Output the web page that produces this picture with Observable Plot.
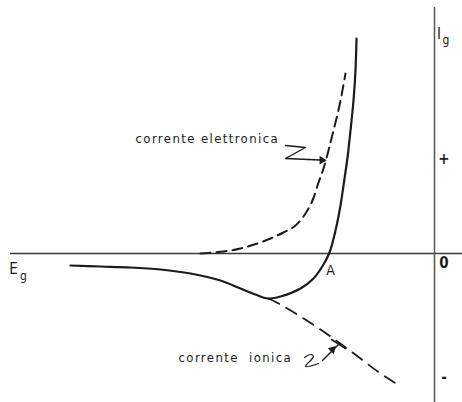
<!DOCTYPE html>
<html>
<head>
<meta charset="utf-8">
<script src="https://cdn.jsdelivr.net/npm/d3@7"></script>
<script src="https://cdn.jsdelivr.net/npm/@observablehq/plot@0.6"></script>
<style>
  html, body { margin: 0; padding: 0; background: #fff; }
  #chart svg text { white-space: pre; }
  #chart svg g[aria-description="curve labels"] text { letter-spacing: 1.4px; }
</style>
</head>
<body>
<div id="chart"></div>
<script>
// Grid current Ig versus grid voltage Eg (arbitrary units, origin at the axes crossing)

// Total grid current (solid)
const totalEg = [-36.4, -33.4, -30.4, -27.4, -24.4, -21.4, -19.4, -17.9, -16.7, -15.4, -13.4, -12.1, -11.1, -10.5, -9.9, -9.4, -9.1, -8.7, -8.4, -8.1, -7.9, -7.8];
const totalIg = [-1.2, -1.3, -1.4, -1.6, -2.0, -2.7, -3.5, -4.1, -4.5, -4.3, -3.5, -2.5, -1.1, 0.1, 2.3, 4.8, 6.8, 9.6, 12.3, 15.3, 18.3, 21.5];

// Electron current (dashed, upper branch)
const electronEg = [-23.4, -21.1, -19.4, -17.7, -16.4, -15.1, -13.9, -12.9, -12.2, -11.6, -11.1, -10.6, -10.1, -9.5, -8.9];
const electronIg = [0, 0.2, 0.5, 1.0, 1.5, 2.1, 2.8, 4.0, 5.3, 7.1, 8.5, 10.3, 12.3, 14.8, 18.0];

// Ion current (dashed, lower branch)
const ionEg = [-16.6, -15.4, -13.4, -11.4, -9.7, -7.4, -5.4, -3.7];
const ionIg = [-4.5, -5.1, -6.3, -7.6, -8.8, -10.5, -12.0, -13.1];

// Labels
const labelElectron = "corrente elettronica";
const labelIon = "corrente  ionica";
const labelA = "A";
const signLabels = ["+", "0", "-"];
const signIg = [9.4, -1.0, -12.4];

const toPts = (xs, ys) => xs.map((x, i) => ({x, y: ys[i]}));
const total = toPts(totalEg, totalIg);
const electron = toPts(electronEg, electronIg);
const ion = toPts(ionEg, ionIg);

// Pointer squiggles from the labels to the curves
const electronSquiggle = toPts([-14.9, -12.9, -14.9, -12.6], [10.8, 10.6, 9.5, 9.4]);
const electronStem = toPts([-12.6, -11.5], [9.4, 9.35]);
const ionSquiggle = toPts([-13.0, -12.4, -12.1, -12.9, -11.6], [-10.4, -10.1, -10.3, -11.3, -11.0]);
const ionStem = toPts([-11.2, -9.6], [-10.7, -9.1]);
const ionBar = toPts([-10.3, -8.9], [-8.6, -9.5]);
const heads = [
  {x: -11.25, y: 9.33, rotate: 90},
  {x: -10.2, y: -9.6, rotate: 45}
];

const ink = "#1b1b1b";
const font = "'DejaVu Sans Condensed', 'DejaVu Sans', sans-serif";

const chart = Plot.plot({
  width: 462,
  height: 402,
  margin: 0,
  x: {domain: [-43.4, 2.8], axis: null},
  y: {domain: [-14.9, 25.3], axis: null},
  style: {fontFamily: font, background: "#fff"},
  marks: [
    // axes
    Plot.ruleY([0], {x1: -42.4, x2: 2.8, stroke: "#3a3a3a", strokeWidth: 1.5}),
    Plot.ruleX([0], {y1: -14.9, y2: 24.6, stroke: "#555", strokeWidth: 1.5}),

    // curves
    Plot.line(total, {x: "x", y: "y", curve: "catmull-rom", stroke: ink, strokeWidth: 2.2}),
    Plot.line(electron, {x: "x", y: "y", curve: "catmull-rom", stroke: ink, strokeWidth: 2, strokeDasharray: "10,6"}),
    Plot.line(ion, {x: "x", y: "y", curve: "monotone-x", stroke: ink, strokeWidth: 1.8, strokeDasharray: "12,8"}),

    // pointers
    Plot.line(electronSquiggle, {x: "x", y: "y", stroke: ink, strokeWidth: 1.3}),
    Plot.line(electronStem, {x: "x", y: "y", stroke: ink, strokeWidth: 1.6}),
    Plot.line(ionSquiggle, {x: "x", y: "y", curve: "catmull-rom", stroke: ink, strokeWidth: 1.2}),
    Plot.line(ionStem, {x: "x", y: "y", stroke: ink, strokeWidth: 1.4}),
    Plot.line(ionBar, {x: "x", y: "y", stroke: ink, strokeWidth: 1.6}),
    Plot.dot(heads, {x: "x", y: "y", rotate: "rotate", symbol: "triangle2", r: 4, fill: ink, stroke: "none"}),

    // text
    Plot.text([labelElectron, labelIon], {
      x: [-29.9, -25.6], y: [11.5, -10.4], text: d => d, textAnchor: "start",
      fontSize: 13, fill: ink, ariaDescription: "curve labels"
    }),
    Plot.text([labelA], {x: -10.4, y: -1.7, text: d => d, fontSize: 14, fill: ink}),
    Plot.text(signLabels, {x: 0.95, y: (d, i) => signIg[i], text: d => d, fontSize: 15, fill: ink, fontWeight: "bold"}),
    Plot.text(["E"], {x: -42.1, y: -1.6, text: d => d, fontSize: 15, fill: ink}),
    Plot.text(["g"], {x: -41.1, y: -2.3, text: d => d, fontSize: 12, fill: ink}),
    Plot.text(["I"], {x: 0.45, y: 21.9, text: d => d, fontSize: 15, fill: ink}),
    Plot.text(["g"], {x: 1.15, y: 21.3, text: d => d, fontSize: 12, fill: ink})
  ]
});

document.getElementById("chart").appendChild(chart);
</script>
</body>
</html>
